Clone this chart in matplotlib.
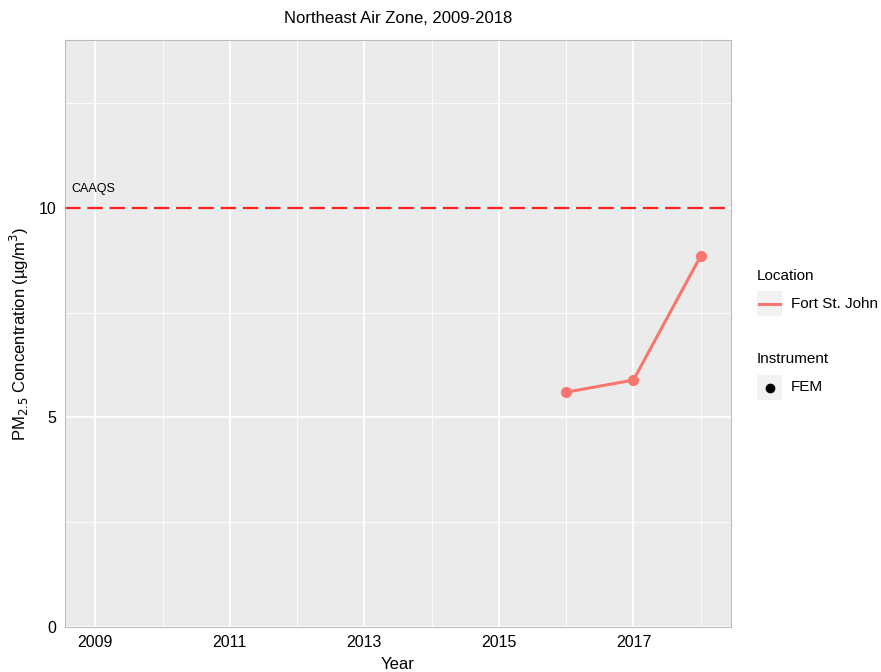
import numpy as np
import matplotlib
matplotlib.use("Agg")
import matplotlib.pyplot as plt
from matplotlib.patches import Rectangle
from matplotlib.lines import Line2D

plt.rcParams['font.family'] = ['Liberation Sans', 'DejaVu Sans']

years = [2016, 2017, 2018]
pm25 = [5.60, 5.89, 8.85]
location = "Fort St. John"
instrument = "FEM"
caaqs = 10
x_ticks = [2009, 2011, 2013, 2015, 2017]
x_minor = [2010, 2012, 2014, 2016, 2018]
y_ticks = [0, 5, 10]
y_minor = [2.5, 7.5, 12.5]

line_col = '#F8766D'

fig = plt.figure(figsize=(8.81, 6.72), dpi=100)
ax = fig.add_axes([65/881, 1-627/672, (731-65)/881, (627-40)/672])
ax.set_facecolor('#EBEBEB')

for x in x_ticks:
    ax.axvline(x, color='white', lw=1.3, zorder=1)
for x in x_minor:
    ax.axvline(x, color='white', lw=0.6, zorder=1)
for y in y_ticks:
    ax.axhline(y, color='white', lw=1.3, zorder=1)
for y in y_minor:
    ax.axhline(y, color='white', lw=0.6, zorder=1)

ax.axhline(caaqs, color='#FF2020', lw=1.6, dashes=(7, 3), zorder=2)
ax.text(2008.65, caaqs + 0.3, "CAAQS", fontsize=9, ha='left', va='bottom')

ax.plot(years, pm25, color=line_col, lw=2.2, zorder=3)
ax.plot(years, pm25, 'o', color=line_col, ms=7, zorder=4)

ax.set_xlim(2008.55, 2018.45)
ax.set_ylim(0, 14)
ax.set_xticks(x_ticks)
ax.set_yticks(y_ticks)
ax.tick_params(length=0, labelsize=11.5, colors='black', pad=6)
for s in ax.spines.values():
    s.set_color('#BDBDBD')
    s.set_linewidth(0.8)

ax.set_xlabel("Year", fontsize=12, labelpad=5)
ax.set_ylabel("PM$_{2.5}$ Concentration (µg/m$^3$)", fontsize=12, labelpad=6)
ax.set_title("Northeast Air Zone, 2009-2018", fontsize=12, pad=12)

# legend drawn by hand, ggplot style
W, H = 881, 672
def fx(px): return px / W
def fy(py): return 1 - py / H

fig.text(fx(757), fy(276), "Location", fontsize=11, va='center', ha='left')
fig.patches.append(Rectangle((fx(757), fy(316)), 25/W, 25/H, transform=fig.transFigure,
                             facecolor='#F2F2F2', edgecolor='none'))
fig.lines.append(Line2D([fx(759), fx(780)], [fy(304), fy(304)], transform=fig.transFigure,
                        color=line_col, lw=2.2))
fig.text(fx(791), fy(304), location, fontsize=11, va='center', ha='left')

fig.text(fx(757), fy(359), "Instrument", fontsize=11, va='center', ha='left')
fig.patches.append(Rectangle((fx(757), fy(400)), 25/W, 25/H, transform=fig.transFigure,
                             facecolor='#F2F2F2', edgecolor='none'))
fig.lines.append(Line2D([fx(769.5)], [fy(387.5)], transform=fig.transFigure,
                        marker='o', color='black', ms=6, lw=0))
fig.text(fx(791), fy(387), instrument, fontsize=11, va='center', ha='left')

fig.savefig("out.png", dpi=100, facecolor='white')
